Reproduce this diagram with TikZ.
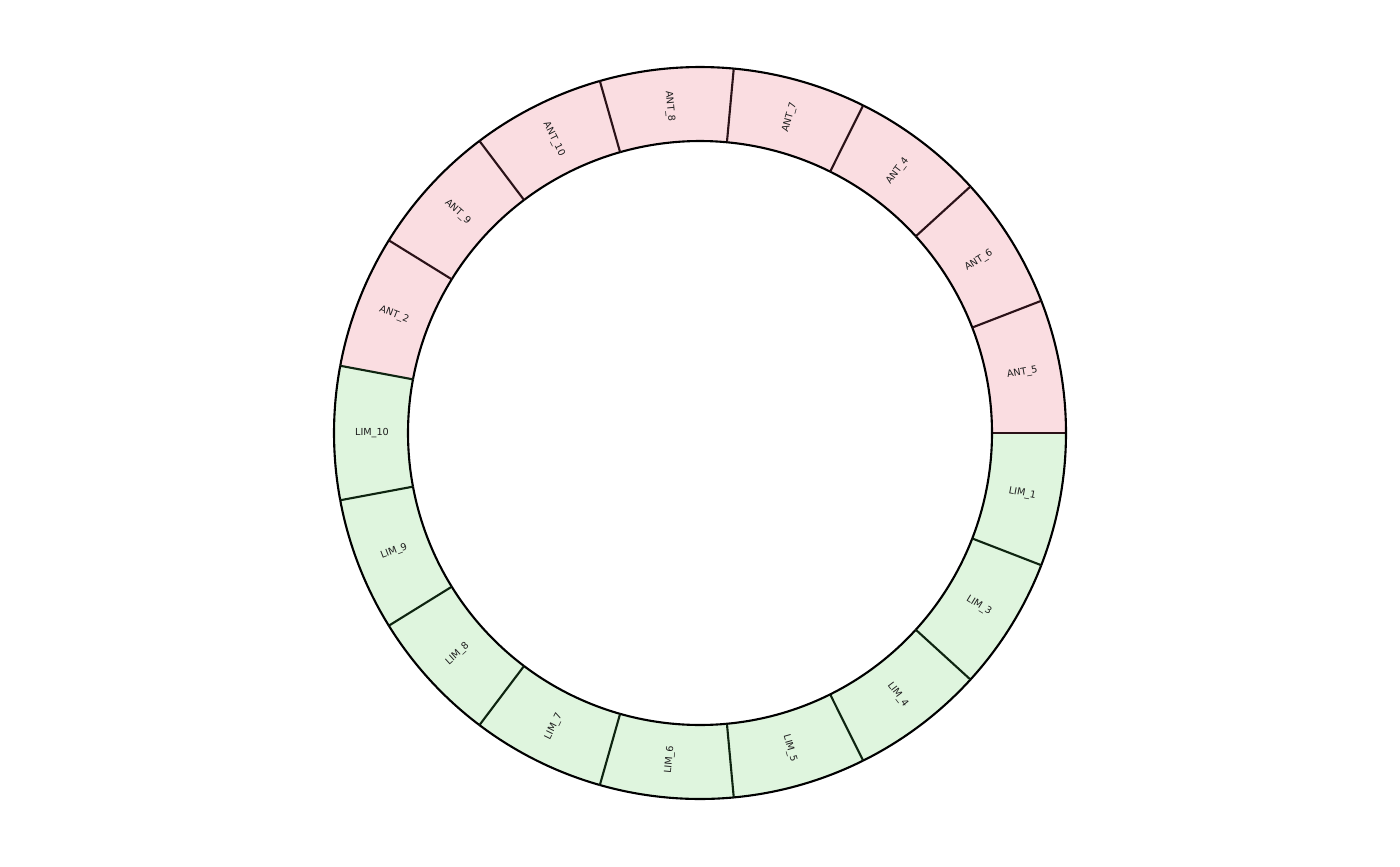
\documentclass[tikz,border=0pt]{standalone}
\usepackage{fontspec}
\setmainfont{DejaVu Sans}
\definecolor{antfill}{RGB}{250,221,225}
\definecolor{limfill}{RGB}{223,245,222}
\definecolor{antline}{RGB}{42,18,24}
\definecolor{limline}{RGB}{14,36,16}
\definecolor{labtext}{RGB}{30,30,30}
\begin{document}
\begin{tikzpicture}[x=0.01cm,y=0.01cm,
  sector/.style={line width=0.6pt},
  seglabel/.style={font=\fontsize{2.75pt}{3pt}\selectfont, text=labtext, inner sep=0pt}]
\useasboundingbox (-700,-433) rectangle (700,433);
\foreach \i in {0,...,16}{
  \pgfmathsetmacro{\aa}{\i*360/17}
  \pgfmathsetmacro{\ab}{(\i+1)*360/17}
  \ifnum\i<8 \def\fc{antfill}\else \def\fc{limfill}\fi
  \fill[\fc] (\aa:292) arc[start angle=\aa, end angle=\ab, radius=292]
     -- (\ab:366) arc[start angle=\ab, end angle=\aa, radius=366] -- cycle;
}
\foreach \grp/\num [count=\i from 0] in {ANT/5,ANT/6,ANT/4,ANT/7,ANT/8,ANT/10,ANT/9,ANT/2,LIM/10,LIM/9,LIM/8,LIM/7,LIM/6,LIM/5,LIM/4,LIM/3,LIM/1}{
  \pgfmathsetmacro{\aa}{\i*360/17}
  \pgfmathsetmacro{\ab}{(\i+1)*360/17}
  \pgfmathsetmacro{\am}{(\i+0.5)*360/17}
  \pgfmathsetmacro{\rot}{\am-180*((\am>90)*(\am<270))}
  \ifnum\i<8 \def\lc{antline}\else \def\lc{limline}\fi
  \draw[sector, draw=\lc] (\aa:292) -- (\aa:366);
  \draw[sector, draw=black] (\aa:292) arc[start angle=\aa, end angle=\ab, radius=292];
  \draw[sector, draw=black] (\aa:366) arc[start angle=\aa, end angle=\ab, radius=366];
  \node[seglabel, rotate=\rot] (lab\i) at (\am:328) {\grp\_\num};
}
\end{tikzpicture}
\end{document}
